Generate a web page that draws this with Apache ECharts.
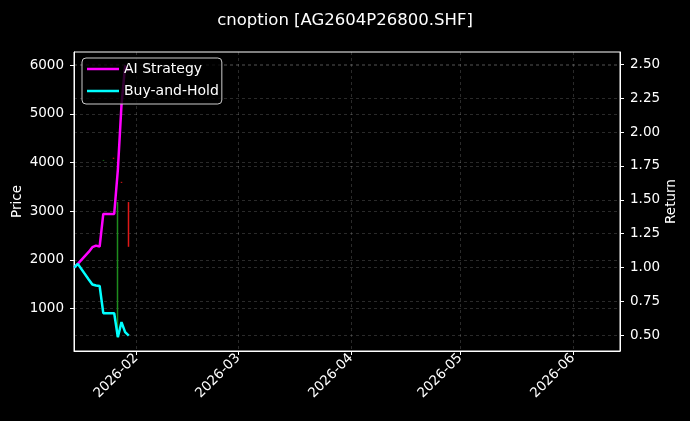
<!DOCTYPE html>
<html>
<head>
<meta charset="utf-8">
<script src="https://cdn.jsdelivr.net/npm/echarts@6/dist/echarts.min.js"></script>
<style>
html,body{margin:0;padding:0;background:#000;}
#chart{width:690px;height:421px;}
</style>
</head>
<body>
<div id="chart"></div>
<script>
// ---- data ----
const dates = ['2026-01-15','2026-01-16','2026-01-19','2026-01-20','2026-01-21','2026-01-22','2026-01-23','2026-01-26','2026-01-27','2026-01-28','2026-01-29','2026-01-30'];
const aiStrategy = [1.00, 1.027, 1.115, 1.150, 1.162, 1.155, 1.396, 1.396, 1.72, 2.20, 2.49, 2.45];
const buyHold    = [1.00, 1.027, 0.912, 0.875, 0.867, 0.864, 0.663, 0.663, 0.486, 0.597, 0.523, 0.498];

const candleDates = ['2026-01-23','2026-01-26','2026-01-27','2026-01-28','2026-01-30'];
const candleOpen  = [4040, 4100, 1000, 3600, 3040];
const candleClose = [4055, 4085, 3000, 3590, 2270];
const candleLow   = [4040, 4080, 408, 3585, 2270];
const candleHigh  = [4055, 4100, 3190, 3605, 3190];

const priceTicks = [1000, 2000, 3000, 4000, 5000, 6000];
const returnTicks = [0.5, 0.75, 1.0, 1.25, 1.5, 1.75, 2.0, 2.25, 2.5];
const monthTicks = ['2026-02-01','2026-03-01','2026-04-01','2026-05-01','2026-06-01'];

const titleText = 'cnoption [AG2604P26800.SHF]';

// ---- build ----
const ts = s => { const p = s.split('-').map(Number); return new Date(p[0], p[1]-1, p[2]).getTime(); };
const candleData = candleDates.map((d,i)=>[ts(d), candleOpen[i], candleClose[i], candleLow[i], candleHigh[i]]);
const aiData = dates.map((d,i)=>[ts(d), aiStrategy[i]]);
const bhData = dates.map((d,i)=>[ts(d), buyHold[i]]);
const monthTs = monthTicks.map(ts);
const fmtMonth = v => { const d = new Date(v); return d.getFullYear() + '-' + String(d.getMonth()+1).padStart(2,'0'); };

const font = 'DejaVu Sans';
const gridLine = {show:true, lineStyle:{color:'rgba(255,255,255,0.28)', type:[3,3], width:0.6}};
const lineIcon = 'path://M0,0L32,0L32,2.5L0,2.5Z';

const chart = echarts.init(document.getElementById('chart'));
chart.setOption({
  backgroundColor:'#000',
  animation:false,
  textStyle:{fontFamily:font},
  title:{text:titleText, left:'center', top:7, textStyle:{color:'#fff', fontSize:16.5, fontWeight:'normal', fontFamily:font}},
  grid:{left:74, right:70, top:52, bottom:70, outerBoundsMode:'none', containLabel:false, show:true, borderColor:'#fff', borderWidth:1, backgroundColor:'transparent'},
  legend:{
    orient:'vertical', left:82, top:58,
    data:[{name:'AI Strategy', icon:lineIcon}, {name:'Buy-and-Hold', icon:lineIcon}],
    itemWidth:32, itemHeight:14, itemGap:8, itemTextGap:8, symbolKeepAspect:true,
    backgroundColor:'rgba(0,0,0,0.8)', borderColor:'#cccccc', borderWidth:1, borderRadius:4,
    padding:[4,3,6,5],
    textStyle:{color:'#fff', fontSize:14, fontFamily:font}
  },
  xAxis:{
    type:'value',
    min: new Date(2026,0,14,23,0).getTime(),
    max: new Date(2026,5,13,22,0).getTime(),
    axisLine:{show:true, onZero:false, lineStyle:{color:'#fff'}},
    axisTick:{show:true, length:4, lineStyle:{color:'#fff'}, customValues:monthTs},
    axisLabel:{color:'#fff', fontSize:13.5, rotate:45, margin:5, customValues:monthTs, formatter:fmtMonth, fontFamily:font},
    splitLine:gridLine
  },
  yAxis:[
    {
      type:'value', position:'left', min:129, max:6273,
      name:'Price', nameLocation:'middle', nameGap:50, nameRotate:90, nameMoveOverlap:false,
      nameTextStyle:{color:'#fff', fontSize:13.5, fontFamily:font},
      axisLine:{show:true, lineStyle:{color:'#fff'}},
      axisTick:{show:true, length:4, lineStyle:{color:'#fff'}, customValues:priceTicks},
      axisLabel:{color:'#fff', fontSize:13.5, margin:10, customValues:priceTicks, formatter:v=>String(v), fontFamily:font},
      splitLine:gridLine
    },
    {
      type:'value', position:'right', min:0.384, max:2.591,
      name:'Return', nameLocation:'middle', nameGap:44, nameRotate:90, nameMoveOverlap:false,
      nameTextStyle:{color:'#fff', fontSize:13.5, fontFamily:font},
      axisLine:{show:true, lineStyle:{color:'#fff'}},
      axisTick:{show:true, length:4, lineStyle:{color:'#fff'}, customValues:returnTicks},
      axisLabel:{color:'#fff', fontSize:13.5, margin:10, customValues:returnTicks, formatter:v=>v.toFixed(2), fontFamily:font},
      splitLine:gridLine
    }
  ],
  series:[
    {
      name:'Price', type:'candlestick', yAxisIndex:0, data:candleData, barWidth:1,
      itemStyle:{color:'#1e8c1e', color0:'#e01818', borderColor:'#1e8c1e', borderColor0:'#e01818', borderWidth:1.5}
    },
    {
      name:'AI Strategy', type:'line', yAxisIndex:1, data:aiData, symbol:'none',
      lineStyle:{color:'#ff00ff', width:2.5}, itemStyle:{color:'#ff00ff'}
    },
    {
      name:'Buy-and-Hold', type:'line', yAxisIndex:1, data:bhData, symbol:'none',
      lineStyle:{color:'#00ffff', width:2.5}, itemStyle:{color:'#00ffff'}
    }
  ]
});
</script>
</body>
</html>
